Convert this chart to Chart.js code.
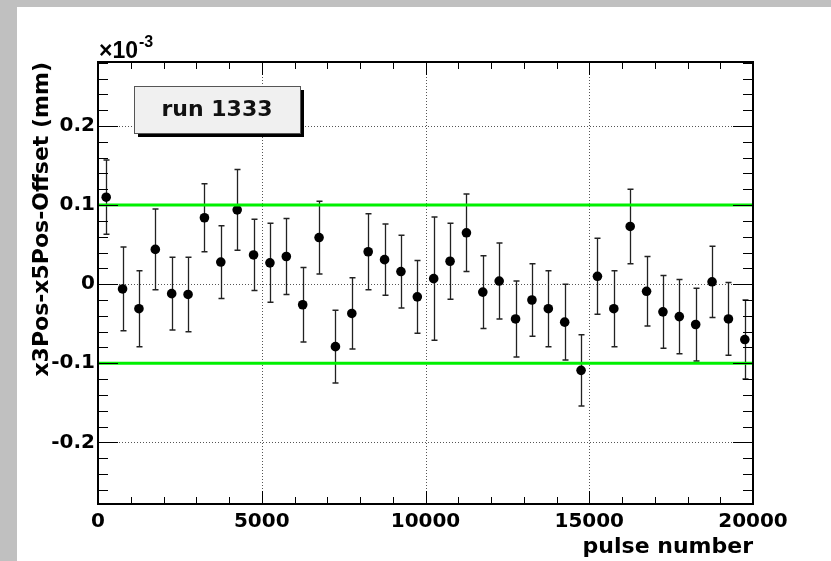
<!DOCTYPE html>
<html>
<head>
<meta charset="utf-8">
<script src="https://cdn.jsdelivr.net/npm/chart.js@4.4.0/dist/chart.umd.min.js"></script>
<style>
  html, body { margin: 0; padding: 0; background: #c0c0c0; width: 831px; height: 561px; overflow: hidden; }
  #offsetChart { position: absolute; left: 17px; top: 7px; background: #ffffff; }
</style>
</head>
<body>
<canvas id="offsetChart" width="814" height="554"></canvas>
<script>
// pulse number (bin centres) and x3Pos-x5Pos-Offset in units of 1e-3 mm
const pulses = [250, 750, 1250, 1750, 2250, 2750, 3250, 3750, 4250, 4750,
  5250, 5750, 6250, 6750, 7250, 7750, 8250, 8750, 9250, 9750,
  10250, 10750, 11250, 11750, 12250, 12750, 13250, 13750, 14250, 14750,
  15250, 15750, 16250, 16750, 17250, 17750, 18250, 18750, 19250, 19750];
const offsets = [0.110, -0.006, -0.031, 0.044, -0.012, -0.013, 0.084, 0.028, 0.094, 0.037,
  0.027, 0.035, -0.026, 0.059, -0.079, -0.037, 0.041, 0.031, 0.016, -0.016,
  0.007, 0.029, 0.065, -0.010, 0.004, -0.044, -0.020, -0.031, -0.048, -0.109,
  0.010, -0.031, 0.073, -0.009, -0.035, -0.041, -0.051, 0.003, -0.044, -0.070];
const errors = [0.047, 0.053, 0.048, 0.051, 0.046, 0.047, 0.043, 0.046, 0.051, 0.045,
  0.050, 0.048, 0.047, 0.046, 0.046, 0.045, 0.048, 0.045, 0.046, 0.046,
  0.078, 0.048, 0.049, 0.046, 0.048, 0.048, 0.046, 0.048, 0.048, 0.045,
  0.048, 0.048, 0.047, 0.044, 0.046, 0.047, 0.046, 0.045, 0.046, 0.050];
// green tolerance lines
const limits = [0.1, -0.1];
// axis ranges
const xRange = [0, 20000];
const yRange = [-0.278, 0.281];
const runLabel = "run 1333";

const LABEL_FONT = { family: "'DejaVu Sans', sans-serif", size: 20, weight: "bold" };
const TITLE_FONT = { family: "'DejaVu Sans', sans-serif", size: 22, weight: "bold" };

const points = pulses.map((p, i) => ({ x: p, y: offsets[i] }));

const datasets = [
  {
    type: "scatter",
    data: points,
    pointRadius: 4.8,
    pointHoverRadius: 4.8,
    backgroundColor: "#000",
    borderWidth: 0,
    order: 2,
  },
];
limits.forEach((v) => {
  datasets.push({
    type: "line",
    data: [{ x: xRange[0], y: v }, { x: xRange[1], y: v }],
    borderColor: "#00f000",
    borderWidth: 3,
    pointRadius: 0,
    fill: false,
    order: 1,
  });
});

// grid, text box, error bars, frame and ROOT style inside ticks
const rootStyle = {
  id: "rootStyle",
  beforeDatasetsDraw(chart) {
    const { ctx, chartArea: a, scales: { x, y } } = chart;
    ctx.save();
    ctx.strokeStyle = "#555";
    ctx.lineWidth = 1;
    ctx.setLineDash([1, 2]);
    x.ticks.forEach((t) => {
      if (t.value <= xRange[0] || t.value >= xRange[1]) return;
      const px = Math.round(x.getPixelForValue(t.value)) + 0.5;
      ctx.beginPath(); ctx.moveTo(px, a.top); ctx.lineTo(px, a.bottom); ctx.stroke();
    });
    y.ticks.forEach((t) => {
      const py = Math.round(y.getPixelForValue(t.value)) + 0.5;
      ctx.beginPath(); ctx.moveTo(a.left, py); ctx.lineTo(a.right, py); ctx.stroke();
    });
    ctx.setLineDash([]);

    // run label box
    const bx = a.left + 36, by = a.top + 24, bw = 166, bh = 47;
    ctx.fillStyle = "#000";
    ctx.fillRect(bx + 4, by + 4, bw, bh);
    ctx.fillStyle = "#f0f0f0";
    ctx.fillRect(bx, by, bw, bh);
    ctx.strokeStyle = "#555";
    ctx.strokeRect(bx + 0.5, by + 0.5, bw, bh);
    ctx.fillStyle = "#111";
    ctx.font = "bold 22px 'DejaVu Sans', sans-serif";
    ctx.textAlign = "center";
    ctx.textBaseline = "middle";
    ctx.fillText(runLabel, bx + bw / 2, by + bh / 2 + 1);

    // error bars
    ctx.strokeStyle = "#222";
    pulses.forEach((p, i) => {
      const px = Math.round(x.getPixelForValue(p)) + 0.5;
      const top = y.getPixelForValue(offsets[i] + errors[i]);
      const bot = y.getPixelForValue(offsets[i] - errors[i]);
      ctx.lineWidth = 1.3;
      ctx.beginPath(); ctx.moveTo(px, top); ctx.lineTo(px, bot); ctx.stroke();
      ctx.lineWidth = 1.5;
      ctx.beginPath();
      ctx.moveTo(px - 3, top); ctx.lineTo(px + 3, top);
      ctx.moveTo(px - 3, bot); ctx.lineTo(px + 3, bot);
      ctx.stroke();
    });
    ctx.restore();
  },
  afterDatasetsDraw(chart) {
    const { ctx, chartArea: a, scales: { x, y } } = chart;
    ctx.save();
    ctx.strokeStyle = "#000";
    ctx.lineWidth = 1;
    // y ticks every 0.02, major every 0.1
    for (let k = Math.ceil(yRange[0] / 0.02); k <= Math.floor(yRange[1] / 0.02); k++) {
      const py = Math.round(y.getPixelForValue(k * 0.02)) + 0.5;
      const len = k % 5 === 0 ? 20 : 10;
      ctx.beginPath();
      ctx.moveTo(a.left, py); ctx.lineTo(a.left + len, py);
      ctx.moveTo(a.right, py); ctx.lineTo(a.right - len, py);
      ctx.stroke();
    }
    // x ticks every 1000, major every 5000
    for (let k = 0; k <= 20; k++) {
      const px = Math.round(x.getPixelForValue(k * 1000)) + 0.5;
      const len = k % 5 === 0 ? 13 : 7;
      ctx.beginPath();
      ctx.moveTo(px, a.top); ctx.lineTo(px, a.top + len);
      ctx.moveTo(px, a.bottom); ctx.lineTo(px, a.bottom - len);
      ctx.stroke();
    }
    // frame
    ctx.lineWidth = 2;
    ctx.strokeRect(a.left, a.top, a.right - a.left, a.bottom - a.top);

    // exponent
    ctx.fillStyle = "#000";
    ctx.textAlign = "left";
    ctx.textBaseline = "alphabetic";
    ctx.font = "bold 23px 'Liberation Sans', Arial, sans-serif";
    ctx.fillText("\u00d710", a.left + 1, a.top - 4);
    const w = ctx.measureText("\u00d710").width;
    ctx.font = "bold 16px 'Liberation Sans', Arial, sans-serif";
    ctx.fillText("-3", a.left + 2 + w, a.top - 15);
    ctx.restore();
  },
};

const ctx = document.getElementById("offsetChart").getContext("2d");
new Chart(ctx, {
  data: { datasets: datasets },
  options: {
    responsive: false,
    maintainAspectRatio: false,
    animation: false,
    layout: { padding: { left: 0, top: 55, right: 78, bottom: 0 } },
    plugins: { legend: { display: false }, tooltip: { enabled: false } },
    scales: {
      x: {
        type: "linear",
        min: xRange[0],
        max: xRange[1],
        grid: { display: false, drawTicks: false },
        border: { display: false },
        ticks: {
          stepSize: 5000,
          color: "#000",
          font: LABEL_FONT,
          padding: 6,
          maxRotation: 0,
          callback: (v) => String(v),
        },
        title: {
          display: true,
          text: "pulse number",
          align: "end",
          color: "#000",
          font: { family: "'DejaVu Sans', sans-serif", size: 22, weight: "bold" },
          padding: { top: 0, bottom: 1 },
        },
        afterFit: (s) => { s.height = 57; },
      },
      y: {
        type: "linear",
        min: yRange[0],
        max: yRange[1],
        grid: { display: false, drawTicks: false },
        border: { display: false },
        ticks: {
          stepSize: 0.1,
          includeBounds: false,
          color: "#000",
          font: LABEL_FONT,
          padding: 3,
          callback: (v) => (Math.abs(v) < 1e-9 ? "0" : v.toFixed(1)),
        },
        title: {
          display: true,
          text: "x3Pos-x5Pos-Offset (mm)",
          align: "end",
          color: "#000",
          font: TITLE_FONT,
          padding: { top: 12, bottom: 0 },
        },
        afterFit: (s) => { s.width = 81; },
      },
    },
  },
  plugins: [rootStyle],
});
</script>
</body>
</html>
